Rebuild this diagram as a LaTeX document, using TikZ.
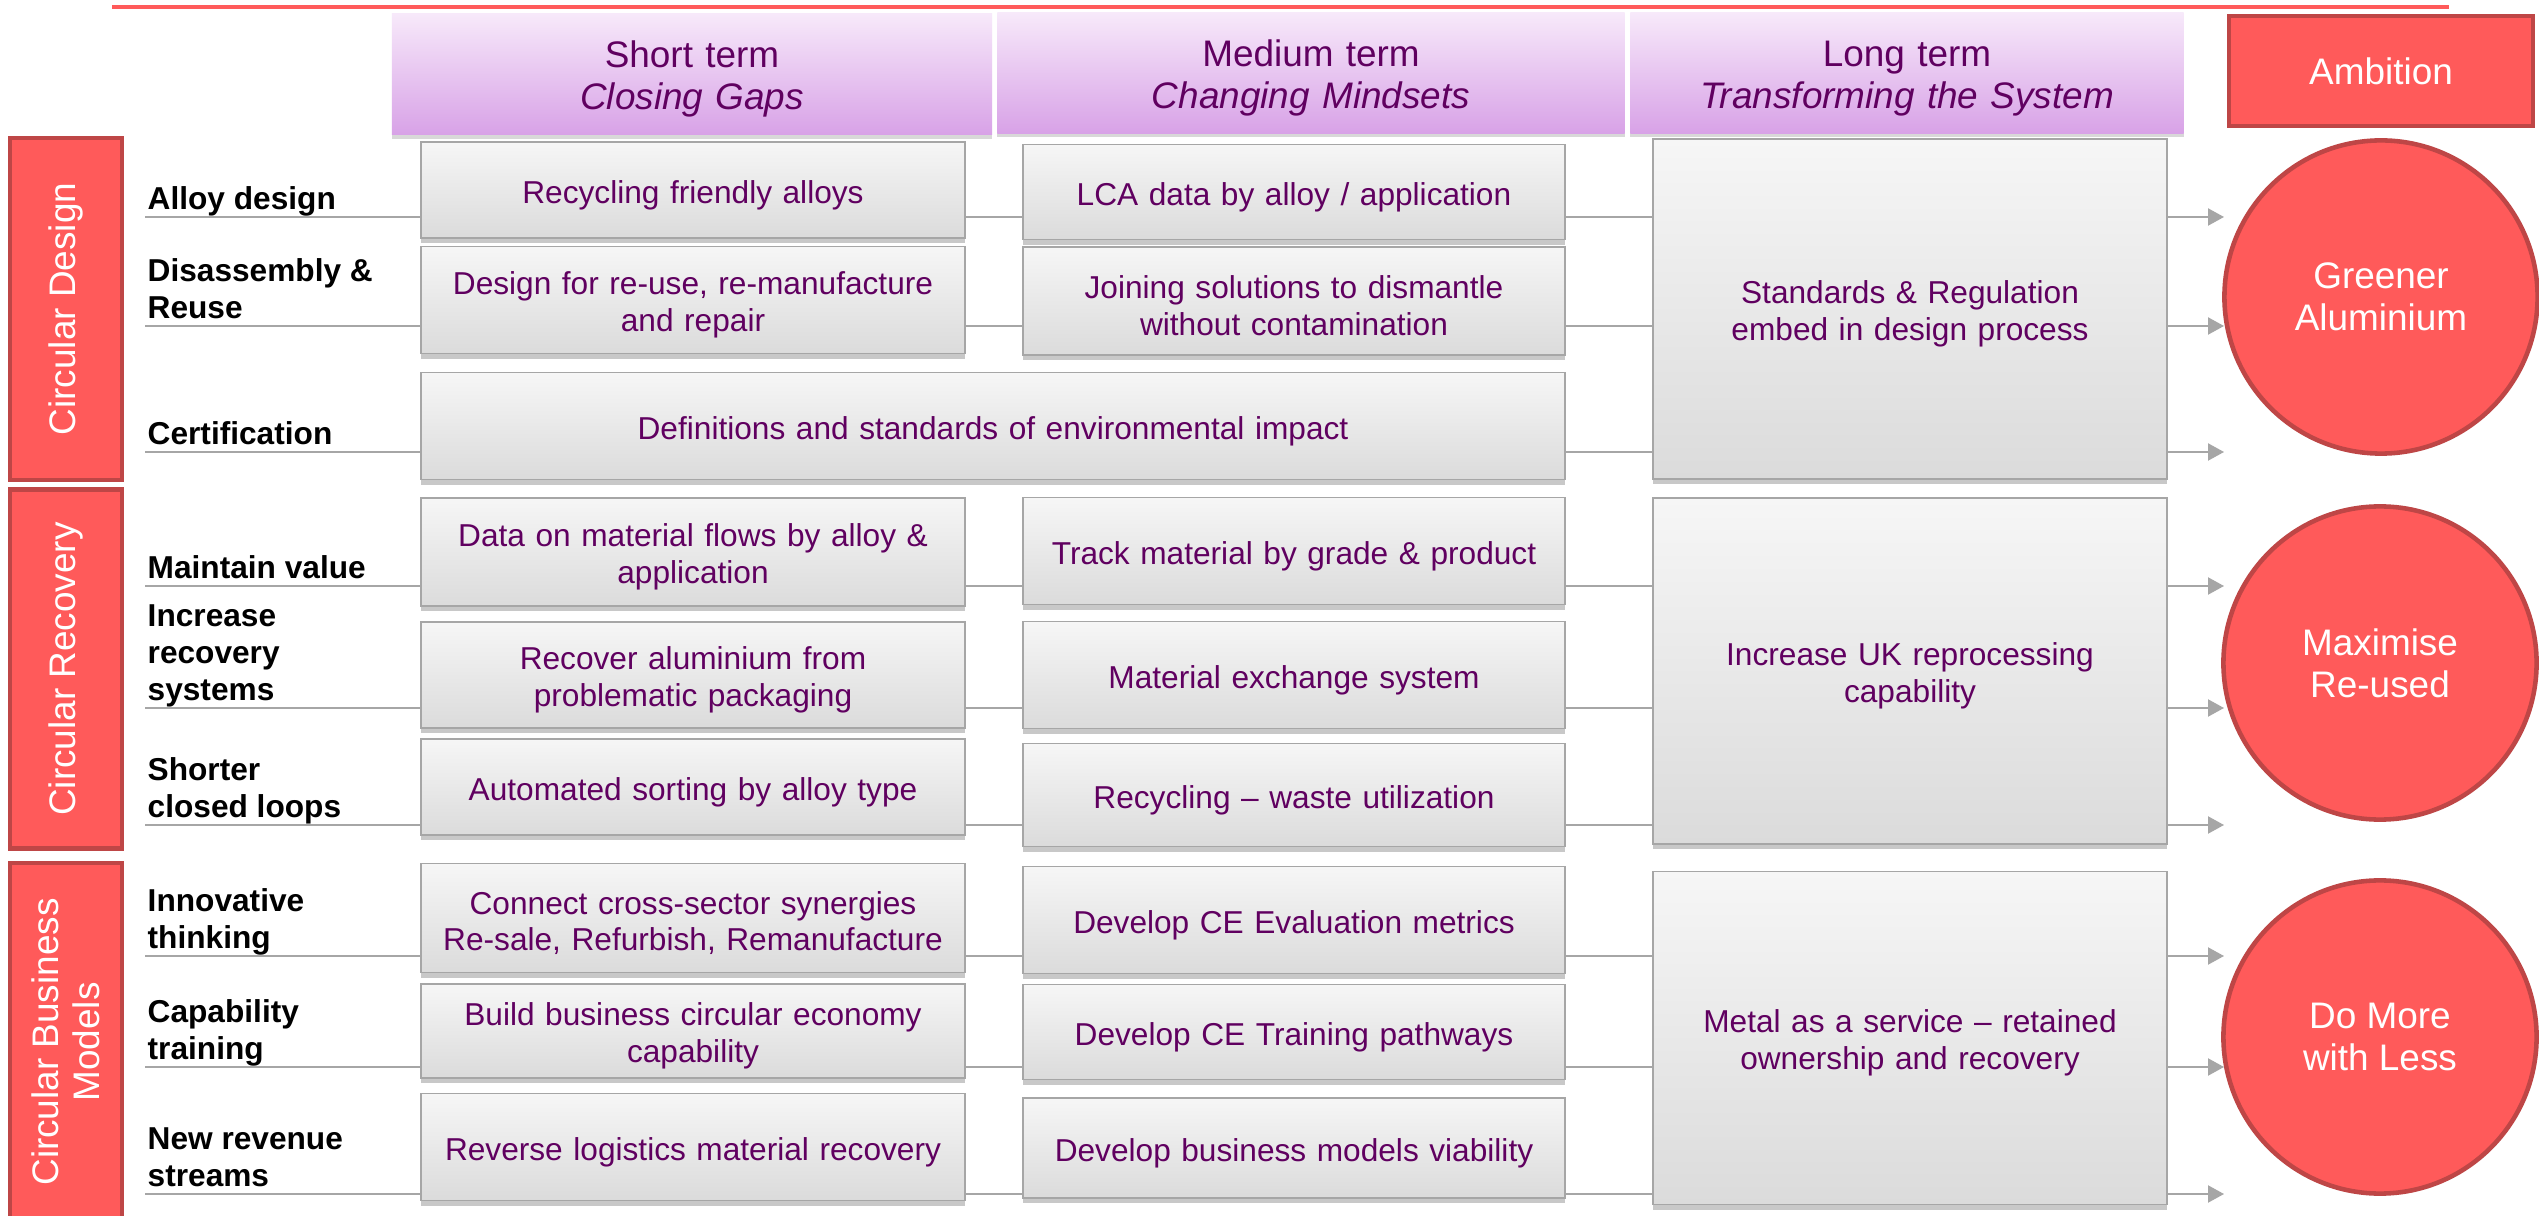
\documentclass[tikz,border=0pt]{standalone}
\usepackage{fontspec}
\setmainfont{Liberation Sans}
\usepackage{tikz}
\usetikzlibrary{arrows.meta}
\usetikzlibrary{shadows}

\definecolor{roadred}{RGB}{255,90,90}
\definecolor{roadredline}{RGB}{190,70,70}
\definecolor{txtpurple}{RGB}{96,0,96}
\definecolor{rulegray}{RGB}{166,166,166}
\definecolor{boxtop}{RGB}{246,246,246}
\definecolor{boxbottom}{RGB}{219,219,219}
\definecolor{headtop}{RGB}{247,233,250}
\definecolor{headbottom}{RGB}{216,162,231}

% keeps the last line of a row label sitting on its rule
\newcommand{\lowstrut}{\rule[-0.065cm]{0pt}{0.1cm}}
% a taller first line drops the box text a little
\newcommand{\topstrut}[1]{\rule{0pt}{#1}}

\begin{document}
\begin{tikzpicture}[x=0.01cm, y=-0.01cm,
    rule/.style={draw=rulegray, line width=0.6pt, -{Triangle[length=0.16cm, width=0.17cm]}},
    rowlabel/.style={anchor=south west, align=left, inner xsep=0.02cm, inner ysep=0pt,
      font=\fontsize{9pt}{10.5pt}\selectfont\bfseries, execute at end node=\lowstrut},
    action/.style={draw=rulegray, line width=0.5pt, top color=boxtop, bottom color=boxbottom,
      text=txtpurple, align=center, inner sep=0pt, font=\fontsize{9pt}{10.5pt}\selectfont,
      execute at begin node=\topstrut{9.4pt},
      drop shadow={shadow xshift=0pt, shadow yshift=-0.05cm, opacity=0.3, fill=black!70}},
    short/.style={action, minimum width=5.43cm, text width=5.3cm},
    medium/.style={action, minimum width=5.42cm, text width=5.3cm},
    long/.style={action, minimum width=5.13cm, text width=5cm},
    term/.style={top color=headtop, bottom color=headbottom, text=txtpurple, align=center,
      text width=5.4cm, inner sep=0pt, font=\fontsize{10.5pt}{12pt}\selectfont,
      execute at begin node=\topstrut{10.6pt},
      drop shadow={shadow xshift=0pt, shadow yshift=-0.04cm, opacity=0.25, fill=black!60}},
    theme/.style={fill=roadred, draw=roadredline, line width=1.2pt, text=white, align=center,
      inner sep=0pt, font=\fontsize{10.5pt}{11.5pt}\selectfont},
    goal/.style={circle, fill=roadred, draw=roadredline, line width=1.3pt, text=white,
      align=center, inner sep=0pt, minimum size=3.13cm, font=\fontsize{10.5pt}{12pt}\selectfont}]

  \fill[white] (0,0) rectangle (2539,1216);
  \useasboundingbox (0,0) rectangle (2539,1216);

  % red line along the top
  \draw[roadred, line width=1.2pt] (112,7) -- (2449,7);

  % column headers
  \node[term, minimum width=6cm, minimum height=1.21cm] (hshort) at (692,74) {Short term\\\textit{Closing Gaps}};
  \node[term, minimum width=6.27cm, minimum height=1.2cm] (hmedium) at (1311,73) {Medium term\\\textit{Changing Mindsets}};
  \node[term, minimum width=5.53cm, minimum height=1.2cm] (hlong) at (1907,73) {Long term\\\textit{Transforming the System}};
  \node[theme, minimum width=3.04cm, minimum height=1.1cm] (ambition) at (2381,71) {Ambition};

  % themes down the left side
  \node[theme, rotate=90, minimum width=3.42cm, minimum height=1.12cm] (design) at (66,309) {Circular Design};
  \node[theme, rotate=90, minimum width=3.59cm, minimum height=1.12cm] (recovery) at (66,669) {Circular Recovery};
  \node[theme, rotate=90, minimum width=3.58cm, minimum height=1.12cm] (business) at (66,1042) {Circular Business\\Models};

  % row labels, each one standing on its rule
  \node[rowlabel] (lab1) at (145,217) {Alloy design};
  \node[rowlabel] (lab2) at (145,326) {Disassembly \&\\Reuse};
  \node[rowlabel] (lab3) at (145,452) {Certification};
  \node[rowlabel] (lab4) at (145,586) {Maintain value};
  \node[rowlabel] (lab5) at (145,708) {Increase\\recovery\\systems};
  \node[rowlabel] (lab6) at (145,825) {Shorter\\closed loops};
  \node[rowlabel] (lab7) at (145,956) {Innovative\\thinking};
  \node[rowlabel] (lab8) at (145,1067) {Capability\\training};
  \node[rowlabel] (lab9) at (145,1194) {New revenue\\streams};

  % rules run under the boxes and end in an arrow at the ambitions
  \foreach \n/\y in {1/217, 2/326, 3/452, 4/586, 5/708, 6/825, 7/956, 8/1067, 9/1194}
    \coordinate (e\n) at (2224,\y);
  \foreach \n in {1,...,9}
    \draw[rule] (lab\n.south west) -- (e\n);

  % short term
  \node[short, minimum height=0.96cm] (s1) at (693,190) {Recycling friendly alloys};
  \node[short, minimum height=1.07cm] (s2) at (693,300) {Design for re-use, re-manufacture\\and repair};
  \node[action, minimum width=11.43cm, text width=11cm, minimum height=1.07cm] (cert) at (993,426) {Definitions and standards of environmental impact};
  \node[short, minimum height=1.08cm] (s4) at (693,552) {Data on material flows by alloy \&\\application};
  \node[short, minimum height=1.06cm] (s5) at (693,675) {Recover aluminium from\\problematic packaging};
  \node[short, minimum height=0.96cm] (s6) at (693,787) {Automated sorting by alloy type};
  \node[short, minimum height=1.09cm] (s7) at (693,918) {Connect cross-sector synergies\\Re-sale, Refurbish, Remanufacture};
  \node[short, minimum height=0.94cm] (s8) at (693,1031) {Build business circular economy\\capability};
  \node[short, minimum height=1.07cm] (s9) at (693,1147) {Reverse logistics material recovery};

  % medium term
  \node[medium, minimum height=0.95cm] (m1) at (1294,192) {LCA data by alloy / application};
  \node[medium, minimum height=1.08cm] (m2) at (1294,301) {Joining solutions to dismantle\\without contamination};
  \node[medium, minimum height=1.07cm] (m4) at (1294,551) {Track material by grade \& product};
  \node[medium, minimum height=1.07cm] (m5) at (1294,675) {Material exchange system};
  \node[medium, minimum height=1.03cm] (m6) at (1294,795) {Recycling -- waste utilization};
  \node[medium, minimum height=1.07cm] (m7) at (1294,920) {Develop CE Evaluation metrics};
  \node[medium, minimum height=0.95cm] (m8) at (1294,1032) {Develop CE Training pathways};
  \node[medium, minimum height=1cm] (m9) at (1294,1148) {Develop business models viability};

  % long term
  \node[long, minimum height=3.4cm] (l1) at (1910,309) {Standards \& Regulation\\embed in design process};
  \node[long, minimum height=3.46cm] (l2) at (1910,671) {Increase UK reprocessing\\capability};
  \node[long, minimum height=3.33cm] (l3) at (1910,1038) {Metal as a service -- retained\\ownership and recovery};

  % ambitions
  \node[goal] (greener) at (2381,297) {Greener\\Aluminium};
  \node[goal] (reused) at (2380,663) {Maximise\\Re-used};
  \node[goal] (less) at (2380,1037) {Do More\\with Less};
\end{tikzpicture}
\end{document}
